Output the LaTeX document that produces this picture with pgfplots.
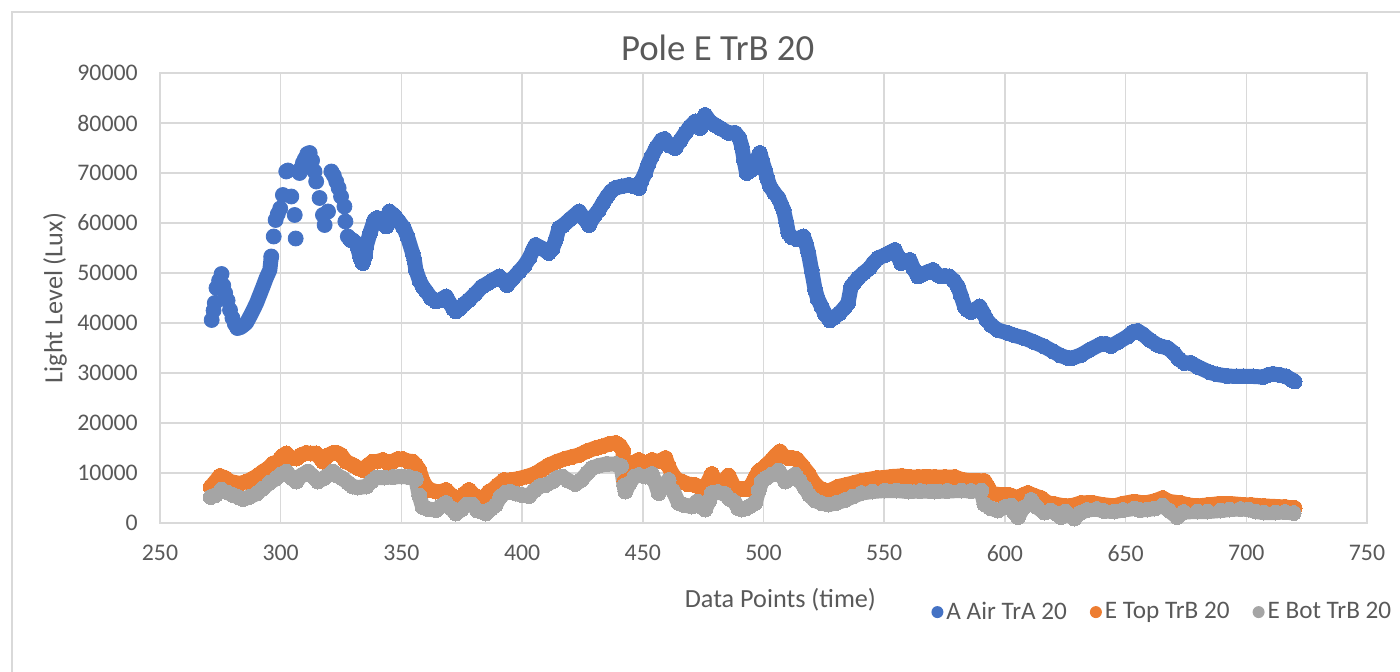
\documentclass[border=0pt]{standalone}
\usepackage{fontspec}
\setmainfont{Carlito}
\usepackage{pgfplots}
\pgfplotsset{compat=1.18}
\definecolor{cblue}{HTML}{4472C4}
\definecolor{corange}{HTML}{ED7D31}
\definecolor{cgray}{HTML}{A5A5A5}
\definecolor{cgrid}{HTML}{D9D9D9}
\definecolor{ctext}{HTML}{595959}
\begin{document}
\begin{tikzpicture}
\useasboundingbox (0,0) rectangle (700pt,-336pt);
\draw[cgrid, line width=0.75pt] (6pt,-340pt) -- (6pt,-6pt) -- (704pt,-6pt);
\begin{axis}[
  at={(80pt,-261.5pt)}, anchor=south west,
  scale only axis, width=603.5pt, height=225pt,
  xmin=250, xmax=750, ymin=0, ymax=90000,
  xtick={250,300,...,750}, ytick={0,10000,...,90000},
  scaled y ticks=false, scaled x ticks=false,
  /pgf/number format/1000 sep={},
  /pgf/number format/assume math mode=true,
  grid=major, major grid style={cgrid, line width=0.75pt},
  axis line style={cgrid, line width=0.75pt},
  major tick length=0pt,
  tick label style={font=\fontsize{11.9}{14}\selectfont, text=ctext},
  xticklabel style={yshift=-7.6pt},
  yticklabel style={xshift=-7.6pt},
  title={Pole E TrB 20},
  title style={at={(0.462,1.029)}, anchor=center, font=\fontsize{18.4}{22}\selectfont, text=ctext},
  xlabel={Data Points (time)},
  xlabel style={at={(0.514,-0.171)}, anchor=center, font=\fontsize{13.1}{16}\selectfont, text=ctext},
  ylabel={Light Level (Lux)},
  ylabel style={at={(-0.087,0.5)}, anchor=center, rotate=0, font=\fontsize{13.1}{16}\selectfont, text=ctext},
  clip=false,
  legend columns=3,
  legend image code/.code={\fill[#1, draw=none] (3pt,0pt) circle (3pt);},
  legend style={at={(0.6388,-0.198)}, anchor=west, draw=none, fill=none, inner sep=0pt,
    font=\fontsize{12.6}{15}\selectfont, text=ctext,
    nodes={inner xsep=1.5pt},
    /tikz/every even column/.append style={column sep=10pt}},
]
% ---- A Air TrA 20 : isolated points
\addplot[cblue, only marks, mark=*, mark size=3.75pt, forget plot] coordinates {
(271.4,40600)(272.2,42500)(272.7,44000)(273.4,47000)(274.5,48500)(275.5,49800)(276.2,47500)(277,46000)(278,44500)(279,42600)(280,41000)(281,39800)(282,39000)
(296.1,53300)(297.1,57300)(297.9,60600)(298.8,61800)(299.8,62900)(300.9,65600)(302.3,70300)(303,70500)(304.4,65300)(305.8,61600)(306.2,56900)(307.8,70000)(308.5,71000)(309.2,72000)(310,72800)(311,73800)(312,74000)(313,72500)(314,70300)(314.7,68300)(316.1,65000)(317.5,61600)(318.2,59600)(319.6,62300)(321,70300)(322,69500)(323,68300)(324,67000)(325,65300)(326.4,63300)(326.8,60300)(327.8,57300)(329,56600)
};
\addplot[cblue, line width=7.5pt, line join=round, line cap=round, forget plot] coordinates {
(282,39000)(283,39000)(284,39300)(285.8,40000)(288,42000)(290,44000)(292.6,47200)(294,49000)(295.5,50600)(296.1,53300)
};
% ---- A Air TrA 20 : main trace
\addplot[cblue, line width=7.5pt, line join=round, line cap=round, mark=*, mark size=3.75pt, mark options={line width=0pt}] coordinates {
(329,56600)(329.8,56600)(331.2,56000)(331.8,55200)(333,53000)(334,52000)(335,53500)(335.4,55300)(337,58000)(338.8,60600)(340,61000)(342,60500)(343.7,59300)(345,62300)(347,61500)(349,60300)(351,59000)(352.5,57300)(354.6,54000)(355.4,52500)(356,50600)(357.5,48500)(358.8,47300)(360,46500)(362.3,45000)(364.3,44300)(366,44600)(368.5,45300)(370,44000)(371.5,42800)(372.6,42300)(374,42800)(376,43800)(378,44600)(380.5,45800)(383.5,47300)(386,48000)(388,48600)(390.5,49300)(392,48500)(393.8,47600)(396,48800)(398.8,50300)(401,51500)(403,53000)(404.5,54600)(405.6,55600)(408,55000)(411,54000)(412.5,54800)(413.9,56600)(415.3,59000)(417,59500)(420,60800)(423.6,62300)(425.5,61000)(427.7,59600)(430,61500)(431.8,62600)(433.5,64000)(435.2,65300)(436.8,66300)(438.6,67000)(441,67300)(444.2,67600)(446,67400)(448.4,67000)(449.5,68500)(451,70000)(452.3,71800)(453.7,73300)(455.5,75000)(457.8,76600)(459,76800)(461,75500)(463.4,75000)(465.5,76500)(467.6,78000)(469.5,79200)(471.7,80300)(473.8,79000)(475.8,81600)(477.8,80300)(479.9,79600)(482,79000)(485.5,78000)(488.3,78000)(490,77000)(491,75300)(492,72500)(493,70000)(495,70600)(496.5,72000)(498.5,74000)(499.5,72300)(500.6,70600)(501.5,69000)(502.7,67300)(504.5,66000)(506.2,65000)(507.5,63500)(508.3,62600)(509.5,60000)(510.3,58000)(511.5,57200)(513.6,56800)(515,57000)(516.5,57300)(517.5,56000)(518.6,54000)(519.9,50600)(521.4,46600)(522.5,44800)(524,43300)(525.5,41800)(527.5,40500)(529,41000)(531.6,42000)(533.5,43000)(535,44000)(536.3,47300)(537.5,48000)(539.2,49000)(541.5,50000)(544,51000)(545.5,52000)(547.5,53000)(550,53500)(552,54000)(554.4,54600)(555.5,53500)(557,52000)(558.8,52400)(560.6,52600)(562,51000)(564,49300)(566,49800)(568,50200)(570.2,50600)(572,49700)(573.5,49300)(575,49400)(577,49300)(578.8,48500)(580.5,47300)(581.8,45500)(583.3,43300)(584.5,42600)(586,42200)(587.8,42700)(589.5,43300)(591,42000)(592.5,40600)(594.3,39600)(597,38600)(601.2,38000)(604,37500)(608,37000)(612,36200)(616.3,35300)(620,34300)(623,33500)(626,33000)(628,33000)(631.5,33600)(635,34600)(639.8,35800)(642,35800)(643.9,35400)(647,36200)(650.8,37300)(653,38200)(655,38400)(657,37800)(660,36600)(663.2,35600)(665,35300)(667.4,35000)(670,34000)(672,32800)(674.3,32000)(677,32000)(680,31200)(685,30100)(688,29700)(692,29400)(696,29300)(699,29300)(703,29300)(707,29200)(709,29600)(711,29800)(714,29600)(716.5,29300)(719,28600)(720,28300)
};
\addlegendentry{A Air TrA 20}
% ---- E Top TrB 20
\addplot[corange, line width=7.5pt, line join=round, line cap=round, mark=*, mark size=3.75pt, mark options={line width=0pt}] coordinates {
(271,7200)(273,8300)(274.8,9400)(277,9000)(279,8300)(283,7900)(286,8300)(288.5,8900)(290.5,9500)(292.7,10300)(295,11000)(296.8,11900)(299,12300)(300.5,13300)(302.3,13900)(304,13000)(306.5,12900)(308.5,13600)(310.6,14000)(312.5,13900)(314.7,13900)(317.5,12300)(319.5,13500)(321.6,14000)(323.5,14000)(325,13600)(327,12300)(329.9,11600)(332,11000)(334,10600)(336,11500)(338.2,12300)(340,12300)(342.3,12600)(344.5,12000)(346.4,12300)(348.5,12800)(350.5,12800)(352.5,12400)(354.6,12300)(356,11600)(357.4,10600)(358.8,8500)(360.2,7300)(362,6600)(364.3,6300)(366.5,6300)(368.5,6600)(370.5,5600)(372.6,4300)(374.5,4800)(376,5800)(378,6600)(380,5600)(382.2,5000)(383.5,4900)(385,5500)(386.4,6300)(387.7,6600)(390,7600)(392.6,8600)(395.5,8600)(398.8,8900)(402,9300)(405.6,9900)(408.5,10800)(411.2,11600)(414.5,12300)(418,12900)(420.5,13200)(423.6,13600)(427,14400)(430.5,15000)(433,15300)(436,15800)(438.8,16000)(440.5,15500)(441.8,14500)(442.4,8300)(444,10000)(446,12000)(448.3,12600)(450.5,12000)(452,11800)(453.8,12600)(456,12300)(458,12600)(459.4,13000)(460.5,11500)(462.1,9900)(464,8700)(466.2,8300)(468.5,7800)(471.7,7600)(474,7000)(476,7200)(478.6,9800)(480.5,8000)(482.5,7800)(485.5,9500)(487.5,7500)(489,6800)(491,6800)(493,6800)(495,7600)(496.5,9000)(497.9,10300)(499.5,10800)(501,11500)(503.4,12600)(505,13500)(506.8,14300)(508.5,13300)(510.3,13000)(512,13000)(513.7,12800)(516,11500)(518.6,9900)(520.5,8300)(522.8,7100)(525,6600)(526.9,6400)(529,6800)(531,7300)(534,7600)(537.9,8100)(540.5,8400)(543.4,8700)(547,9000)(550.3,9100)(553.5,9300)(557.2,9400)(560.5,9200)(564,9200)(567.5,9300)(570.9,9200)(575,9200)(579.2,9200)(582,8700)(584.7,8500)(588,8500)(591.5,8400)(593,7200)(594.3,5900)(597.5,5700)(601.2,5700)(603,5400)(605.4,5000)(607.5,5600)(609.5,6000)(612,5500)(615,5000)(617.8,4000)(620.5,3800)(624.7,3400)(628,3500)(631.5,4000)(635.7,4100)(640,3700)(645.3,3400)(649,3900)(653.6,4300)(656,4100)(659,4100)(662,4400)(665.3,5000)(668,4300)(672.8,4000)(676,3600)(679.7,3400)(684,3600)(689.4,3900)(693,3900)(697.6,3700)(702,3600)(707.3,3400)(712,3300)(716,3200)(719,3000)(720,3000)
};
\addlegendentry{E Top TrB 20}
% ---- E Bot TrB 20
\addplot[cgray, line width=7.5pt, line join=round, line cap=round, mark=*, mark size=3.75pt, mark options={line width=0pt}] coordinates {
(271,5200)(273,5600)(275.5,6700)(278,6100)(280.3,5600)(282.5,5200)(284.4,4800)(287,5200)(290,5900)(292.5,6900)(295.5,8100)(298,8900)(300,9700)(302.3,10300)(304.5,9000)(306.5,8300)(308.5,9500)(311.3,10300)(313.5,9300)(315.4,8300)(318,9000)(321.6,10300)(323.5,9500)(325.7,8900)(328,8000)(329.9,7300)(332,7100)(335.4,7300)(337.5,8300)(339.5,9100)(343,9100)(346.4,9200)(350,9300)(353.3,9200)(356,8800)(357.4,5500)(358.8,3200)(361,2800)(364.3,2600)(366.5,3400)(368.5,4000)(370.5,3000)(372.6,1900)(375,2800)(377,3700)(379.4,3700)(381.5,2500)(383.5,2300)(385,1900)(387,2800)(389,3600)(391,5300)(393.2,6100)(395,6300)(397.3,5900)(400,5600)(402.9,5400)(405,6500)(407.5,7400)(409.7,7600)(412.5,8300)(414.5,9000)(416.6,9300)(419,8500)(422.1,7800)(424.5,8600)(427,10000)(429,11000)(432,11500)(435,11800)(438.7,11800)(441,11400)(442.3,7500)(442.8,6300)(444.5,8000)(446.5,9300)(448.3,9600)(451,9300)(453.8,9800)(455,8300)(456.6,6000)(458.5,7500)(460.7,8600)(462.5,6500)(464.8,4000)(467,3600)(470.3,3300)(472.5,4300)(474,3300)(475.8,2700)(477.5,4500)(478.6,6000)(481,6200)(484.1,5800)(486,4800)(488,4200)(489.5,3000)(491,2700)(493,3000)(494.5,3400)(496.5,4000)(498,6500)(499.3,8300)(501,9000)(503.4,9700)(505,10000)(506.2,10500)(507.5,9500)(509,8300)(511,9000)(513.1,9700)(515,8500)(517.2,7000)(519,5600)(521.4,4500)(524,4000)(526.9,3700)(530,4000)(533.7,4600)(537,5300)(540.6,6000)(545,6300)(550.3,6500)(555,6500)(560,6300)(565,6400)(570.9,6300)(576,6400)(582,6500)(586,6400)(590.2,6500)(591.5,3800)(594,3000)(597.1,2500)(600,3200)(602.6,3500)(604,2000)(605.4,1200)(607.5,3000)(610.9,4600)(613,3300)(616.4,2100)(619,2500)(621.5,1800)(623.3,1200)(625,2300)(628.8,900)(631,2000)(634,2600)(638,2800)(641,2400)(645.3,2300)(649,2600)(653.6,2900)(656,2600)(659,2700)(662,2900)(665.3,3500)(668,2500)(671.4,1200)(674,2200)(679.7,2300)(684,2300)(689.4,2500)(693,2700)(697.6,2800)(701,2700)(704,2300)(707.3,2100)(712,2100)(716,2200)(719.6,2000)
};
\addlegendentry{E Bot TrB 20}
\end{axis}
\end{tikzpicture}
\end{document}
